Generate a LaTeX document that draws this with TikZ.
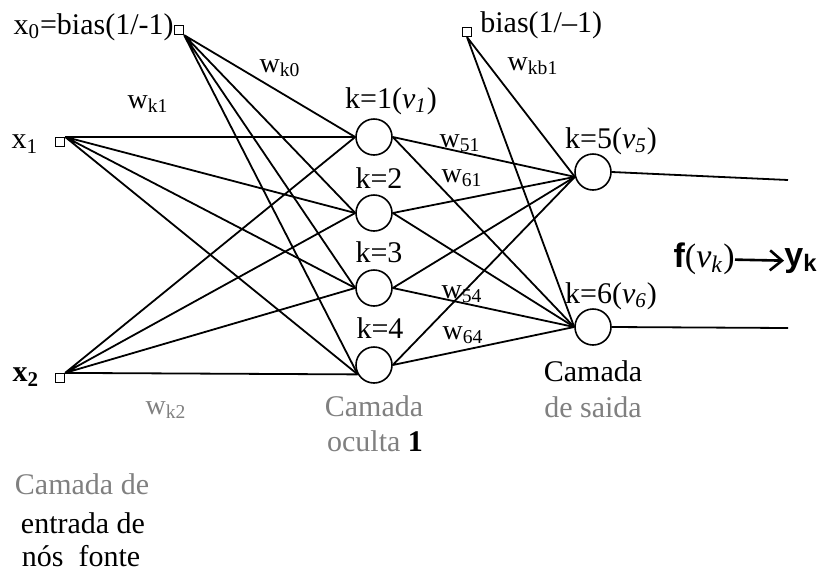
\documentclass[tikz,border=0pt]{standalone}
\usepackage{fontspec}
\setmainfont{Liberation Serif}
\setsansfont{Liberation Sans}
\usetikzlibrary{arrows.meta}

\begin{document}
\begin{tikzpicture}[
        x=0.5pt, y=-0.5pt,
        neuron/.style={
            circle,
            draw,
            line width=0.8pt,
            minimum size=18pt,
            inner sep=0pt
        },
        inbox/.style={
            rectangle,
            draw,
            line width=0.6pt,
            minimum size=4.5pt,
            inner sep=0pt
        },
        edge/.style={line width=0.9pt},
        lbl/.style={font=\fontsize{15}{17}\selectfont, inner sep=0pt},
        wlbl/.style={font=\fontsize{14}{16}\selectfont, inner sep=0pt},
        greylbl/.style={lbl, text=black!50},
        arrow/.style={-{Straight Barb[length=6pt, width=10pt, line width=1.3pt]}, line width=1.3pt}
    ]
        \useasboundingbox (0,0) rectangle (820,574);

        % Input layer
        \node[inbox] (x0) at (179,30) {};
        \node[inbox] (x1) at (60,142) {};
        \node[inbox] (x2) at (60,378) {};
        \node[inbox] (b1) at (467,32) {};

        % Hidden layer
        \node[neuron] (h1) at (374,137) {};
        \node[neuron] (h2) at (374,213) {};
        \node[neuron] (h3) at (374,288) {};
        \node[neuron] (h4) at (374,365) {};

        % Output layer
        \node[neuron] (o5) at (593,172) {};
        \node[neuron] (o6) at (593,327) {};
        \coordinate (y5) at (788,180);
        \coordinate (y6) at (788,328);

        % Input to hidden
        \draw[edge] (x0.south east) -- (h1.west) (x0.south east) -- (h2.west)
                    (x0.south east) -- (h3.west) (x0.south east) -- (h4.210);
        \draw[edge] (x1.north east) -- (h1.west) (x1.north east) -- (h2.west)
                    (x1.north east) -- (h3.west) (x1.north east) -- (h4.210);
        \draw[edge] (x2.north east) -- (h1.west) (x2.north east) -- (h2.west)
                    (x2.north east) -- (h3.west) (x2.north east) -- (h4.210);

        % Hidden to output
        \draw[edge] (h1.east) -- (o5.195) (h1.east) -- (o6.west);
        \draw[edge] (h2.east) -- (o5.195) (h2.east) -- (o6.west);
        \draw[edge] (h3.east) -- (o5.195) (h3.east) -- (o6.west);
        \draw[edge] (h4.east) -- (o5.195) (h4.east) -- (o6.west);
        \draw[edge] (b1.south) -- (o5.195) (b1.south) -- (o6.west);
        \draw[edge] (o5.east) -- (y5);
        \draw[edge] (o6.east) -- (y6);

        % Input labels
        \node[lbl, anchor=east] (x0lbl) at (174,27) {x\textsubscript{0}=bias(1/-1)};
        \node[lbl] (x1lbl) at (25,144) {x\textsubscript{1}};
        \node[lbl] (x2lbl) at (26,377) {\textbf{x\textsubscript{2}}};
        \node[lbl, anchor=west] (b1lbl) at (480,25) {bias(1/--1)};

        % Weight labels
        \node[wlbl] (wk0) at (280,68) {w\textsubscript{k0}};
        \node[wlbl] (wk1) at (148,104) {w\textsubscript{k1}};
        \node[wlbl, text=black!50] (wk2) at (166,410) {w\textsubscript{k2}};
        \node[wlbl] (wkb1) at (533,66) {w\textsubscript{kb1}};
        \node[wlbl] (w51) at (460,143) {w\textsubscript{51}};
        \node[wlbl] (w61) at (462,178) {w\textsubscript{61}};
        \node[wlbl] (w54) at (462,294) {w\textsubscript{54}};
        \node[wlbl] (w64) at (463,335) {w\textsubscript{64}};

        % Neuron labels
        \node[lbl] (k1) at (391,101) {k=1(\textit{ν}\textsubscript{\textit{1}})};
        \node[lbl] (k2) at (379,178) {k=2};
        \node[lbl] (k3) at (379,252) {k=3};
        \node[lbl] (k4) at (380,328) {k=4};
        \node[lbl] (k5) at (611,141) {k=5(\textit{ν}\textsubscript{\textit{5}})};
        \node[lbl] (k6) at (611,296) {k=6(\textit{ν}\textsubscript{\textit{6}})};

        % Activation
        \node[lbl, font=\fontsize{17}{19}\selectfont, anchor=east] (fv) at (735,259)
            {{\sffamily\bfseries f}(\textit{ν}\textsubscript{\textit{k}})};
        \node[lbl, font=\fontsize{17}{19}\selectfont\sffamily\bfseries, anchor=west] (yk) at (784,261)
            {y\textsubscript{k}};
        \draw[arrow] (fv) -- (yk);

        % Layer names
        \node[lbl] (outl1) at (593,371) {Camada};
        \node[greylbl] (outl2) at (593,407) {de saida};
        \node[greylbl] (hidl1) at (374,406) {Camada};
        \node[greylbl] (hidl2) at (375,441) {oculta \textcolor{black}{\textbf{1}}};
        \node[greylbl] (inl1) at (82,484) {Camada de};
        \node[lbl] (inl2) at (83,523) {entrada de};
        \node[lbl] (inl3) at (81,556) {nós~ fonte};

    \end{tikzpicture}
\end{document}
